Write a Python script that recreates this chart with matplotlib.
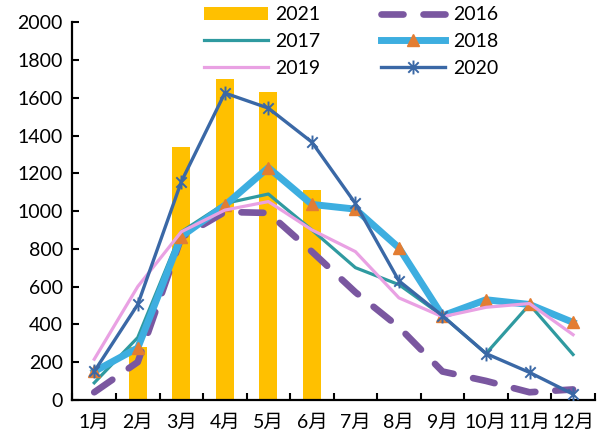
import matplotlib
matplotlib.use("Agg")
import matplotlib.pyplot as plt
from matplotlib.path import Path
import numpy as np

plt.rcParams['font.family'] = ['Lato', 'Noto Sans CJK SC', 'DejaVu Sans']

months = ['1月', '2月', '3月', '4月', '5月', '6月', '7月', '8月', '9月', '10月', '11月', '12月']
y2021 = [None, 280, 1340, 1735, 1630, 1110, None, None, None, None, None, None]
y2016 = [40, 200, 860, 995, 990, 785, 570, 385, 150, 100, 40, 55]
y2017 = [90, 330, 890, 1040, 1090, 900, 700, 610, 445, 245, 505, 240]
y2018 = [150, 275, 865, 1030, 1230, 1035, 1010, 805, 445, 530, 505, 410]
y2019 = [215, 600, 890, 1005, 1050, 900, 785, 540, 440, 490, 510, 345]
y2020 = [150, 505, 1155, 1625, 1545, 1365, 1040, 630, 445, 245, 145, 30]
yticks = list(range(0, 2001, 200))

fig = plt.figure(figsize=(5.99, 4.36), dpi=100)
ax = fig.add_axes([0.121, 0.083, 0.872, 0.866])

x = np.arange(len(months))
bx = [i for i, v in enumerate(y2021) if v is not None]
bv = [v for v in y2021 if v is not None]
hb = ax.bar(bx, bv, width=0.42, color='#FFC000', zorder=1, label='2021')

h16, = ax.plot(x, y2016, color='#7A57A0', lw=4.8, dashes=(3.3, 3.0),
               dash_capstyle='round', zorder=2, label='2016')
h17, = ax.plot(x, y2017, color='#2F9AA0', lw=2.3, zorder=3, label='2017')
h18, = ax.plot(x, y2018, color='#3DAEE0', lw=5.0, marker='^', ms=9,
               mfc='#E37D32', mec='#E37D32', zorder=4, label='2018')
h19, = ax.plot(x, y2019, color='#E9A1E3', lw=2.3, zorder=5, label='2019')
star = Path([(0, -1), (0, 1), (-0.75, -0.75), (0.75, 0.75), (-0.75, 0.75), (0.75, -0.75)],
            [Path.MOVETO, Path.LINETO, Path.MOVETO, Path.LINETO, Path.MOVETO, Path.LINETO])
h20, = ax.plot(x, y2020, color='#3A68A6', lw=2.4, marker=star, ms=10, mew=1.4,
               zorder=6, label='2020')

ax.set_xlim(-0.5, 11.5)
ax.set_ylim(0, 2000)
ax.set_yticks(yticks)
ax.set_xticks(x)
ax.set_xticklabels(months)
ax.set_xticks(np.arange(-0.5, 12, 1), minor=True)
ax.tick_params(axis='x', which='major', length=0, labelsize=14, pad=10)
ax.tick_params(axis='x', which='minor', direction='in', length=5, width=1.5)
ax.tick_params(axis='y', direction='in', length=5, width=1.5, labelsize=14, pad=7)
for s in ['top', 'right']:
    ax.spines[s].set_visible(False)
for s in ['left', 'bottom']:
    ax.spines[s].set_linewidth(1.6)

leg = ax.legend([hb, h17, h19, h16, h18, h20], ['2021', '2017', '2019', '2016', '2018', '2020'],
                ncol=2, loc='upper center', bbox_to_anchor=(0.533, 1.047), frameon=True,
                fontsize=14, handlelength=3.3, columnspacing=3.1, labelspacing=0.5,
                handletextpad=0.4, borderaxespad=0, borderpad=0.1, fancybox=False)
leg.get_frame().set_facecolor('white')
leg.get_frame().set_edgecolor('none')
leg.get_frame().set_alpha(1)
leg.set_zorder(10)

fig.savefig('out.png', dpi=100)
